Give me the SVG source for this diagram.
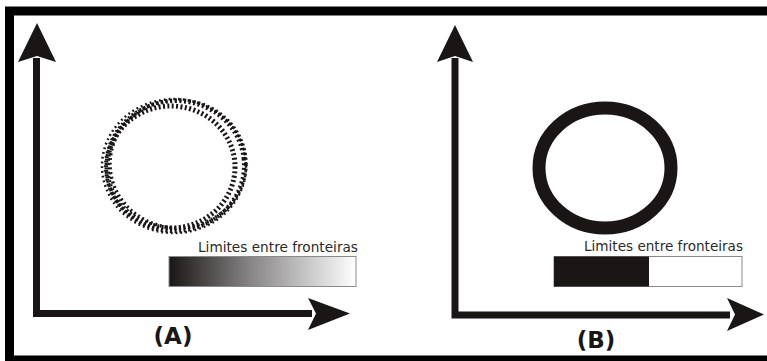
<svg xmlns="http://www.w3.org/2000/svg" width="767" height="361" viewBox="0 0 767 361">
  <style>
    .axis { stroke: #1a1616; stroke-width: 7; fill: none; stroke-linecap: butt; }
    .head { fill: #1a1616; }
    .cap { font-family: "DejaVu Sans", sans-serif; font-size: 14px; fill: #2a2a2a; }
    .lbl { font-family: "DejaVu Sans", sans-serif; font-weight: bold; font-size: 23px; fill: #1a1616; text-anchor: middle; }
    .bar { stroke: #8a8a8a; stroke-width: 1; }
    .dots { fill: none; stroke: #1a1616; }
  </style>
  <defs>
    <linearGradient id="grad" x1="0" y1="0" x2="1" y2="0">
      <stop offset="0" stop-color="#1a1616"/>
      <stop offset="0.45" stop-color="#8a8888"/>
      <stop offset="1" stop-color="#ffffff"/>
    </linearGradient>
  </defs>
  <rect x="0" y="0" width="767" height="361" fill="#ffffff"/>
  <!-- frame -->
  <rect x="9.5" y="11" width="800" height="349" fill="none" stroke="#000000" stroke-width="9"/>

  <!-- Panel A -->
  <g id="panelA">
    <g id="axesA">
      <polyline class="axis" points="36.5,58 36.5,313.5 312,313.5"/>
      <polygon class="head" points="37,23 56,62 37,56 18,62"/>
      <polygon class="head" points="350,313.5 308,330 316,313.5 308,298"/>
    </g>
    <g id="ringA">
      <ellipse class="dots" cx="171" cy="167" rx="64" ry="61" stroke-width="5" stroke-dasharray="2 2.4"/>
      <ellipse class="dots" cx="175" cy="166" rx="69" ry="65" stroke-width="4" stroke-dasharray="2 2.6" transform="rotate(-6 175 166)"/>
      <ellipse class="dots" cx="178" cy="164" rx="68" ry="64" stroke-width="3.5" stroke-dasharray="2 2.8"/>
      <ellipse class="dots" cx="174" cy="166" rx="72" ry="67" stroke-width="2.5" stroke-dasharray="1.8 3"/>
    </g>
    <g id="legendA">
      <text class="cap" x="198" y="252" textLength="160" lengthAdjust="spacingAndGlyphs">Limites entre fronteiras</text>
      <rect class="bar" x="169" y="256.5" width="187" height="30" fill="url(#grad)"/>
    </g>
    <text class="lbl" x="173" y="344">(A)</text>
  </g>

  <!-- Panel B -->
  <g id="panelB">
    <g id="axesB">
      <polyline class="axis" points="455,58 455,315 730,315"/>
      <polygon class="head" points="455,25 473,62 455,56 437,62"/>
      <polygon class="head" points="764,314.5 727,331 735,314.5 727,298"/>
    </g>
    <g id="ringB">
      <ellipse cx="605" cy="168" rx="66" ry="60" fill="none" stroke="#1a1616" stroke-width="13"/>
    </g>
    <g id="legendB">
      <text class="cap" x="584" y="251" textLength="159" lengthAdjust="spacingAndGlyphs">Limites entre fronteiras</text>
      <rect class="bar" x="554" y="256.5" width="188" height="30" fill="#ffffff"/>
      <rect x="554" y="256.5" width="95" height="30" fill="#1a1616"/>
    </g>
    <text class="lbl" x="596" y="348">(B)</text>
  </g>
</svg>
